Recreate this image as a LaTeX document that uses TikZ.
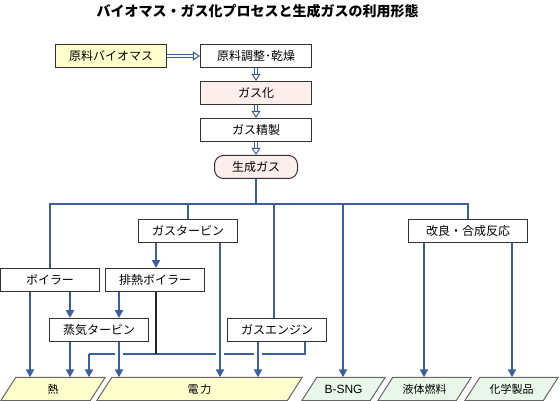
\documentclass[tikz,border=0pt]{standalone}
\usepackage{fontspec}
\setmainfont{Noto Sans CJK JP}
\newfontfamily\latfont{Liberation Sans}
\usetikzlibrary{arrows.meta,calc,backgrounds}
\definecolor{lb}{HTML}{3B5EA1}
\definecolor{ylw}{HTML}{FFFFCC}
\definecolor{pnk}{HTML}{FDEEEE}
\definecolor{grn}{HTML}{E9F6EA}
\begin{document}
\begin{tikzpicture}[x=1pt,y=-1pt,
  box/.style={draw=black!80, line width=1pt, minimum height=23pt, inner sep=0pt,
    font=\fontsize{12}{12}\selectfont, fill=white},
  para/.style={minimum height=23pt, inner sep=0pt, font=\fontsize{11}{11}\selectfont},
  paraline/.style={draw=black!60, line width=1pt},
  flow/.style={draw=lb, line width=2pt},
  arr/.style={flow, -{Triangle[length=8pt,width=8pt]}},
  blk/.style={draw=black!85, line width=2pt},
  dshaft/.style={draw=lb, line width=1pt, double=white, double distance=2pt},
  dtip/.style={draw=lb, line width=1pt, -{Triangle[open,length=7pt,width=9pt]}},
  halo/.style={fill=white}
]
\useasboundingbox (0,0) rectangle (560,401);

% title
\node[font=\fontsize{14}{14}\selectfont\bfseries] (title) at (257.5,11) {バイオマス・ガス化プロセスと生成ガスの利用形態};

% process chain
\node[box, fill=ylw, minimum width=111pt] (raw) at (111,56) {原料バイオマス};
\node[box, minimum width=111pt] (prep) at (256,56) {原料調整･乾燥};
\node[box, fill=pnk, minimum width=111pt] (gasif) at (256,93) {ガス化};
\node[box, minimum width=111pt] (refine) at (256,130) {ガス精製};
\node[box, fill=pnk, minimum width=83pt, rounded corners=9pt] (gas) at (256,167) {生成ガス};

% double arrows
\draw[dshaft] (raw.east) -- ([xshift=-6.5pt]prep.west);
\draw[dtip] ([xshift=-7pt]prep.west) -- (prep.west);
\draw[dshaft] (prep.south) -- ([yshift=6.5pt]gasif.north);
\draw[dtip] ([yshift=7pt]gasif.north) -- (gasif.north);
\draw[dshaft] (gasif.south) -- ([yshift=6.5pt]refine.north);
\draw[dtip] ([yshift=7pt]refine.north) -- (refine.north);
\draw[dshaft] (refine.south) -- ([yshift=6.5pt]gas.north);
\draw[dtip] ([yshift=7pt]gas.north) -- (gas.north);

% utilisation boxes
\node[box, minimum width=99pt] (gt) at (188,231) {ガスタービン};
\node[box, minimum width=119pt] (ref) at (468,231) {改良・合成反応};
\node[box, minimum width=99pt] (boiler) at (50,280) {ボイラー};
\node[box, minimum width=99pt] (hrb) at (155,280) {排熱ボイラー};
\node[box, minimum width=99pt] (st) at (99,330) {蒸気タービン};
\node[box, minimum width=99pt] (ge) at (277,330) {ガスエンジン};

% products
\node[para, minimum width=104pt] (heat) at (53,389) {熱};
\node[para, minimum width=205pt] (power) at (199.5,389) {電\hspace{2pt}力};
\node[para, minimum width=83pt, font=\latfont\fontsize{12}{12}\selectfont] (bsng) at (343.5,389) {B-SNG};
\node[para, minimum width=93pt] (liquid) at (424.5,389) {液体燃料};
\node[para, minimum width=93pt] (chem) at (511.5,389) {化学製品};
\begin{scope}[on background layer]
  \foreach \n/\c in {heat/ylw, power/ylw, bsng/grn, liquid/grn, chem/grn}{
    \draw[paraline, fill=\c] (\n.south west) -- ([xshift=-15pt]\n.south east)
      -- (\n.north east) -- ([xshift=15pt]\n.north west) -- cycle;
  }
\end{scope}

% helper x positions
\coordinate (br) at (256,204);
\coordinate (xa) at (30,0);
\coordinate (xb) at (70,0);
\coordinate (xc) at (119,0);
\coordinate (xd) at (156,0);
\coordinate (xf) at (89,0);
\coordinate (xg) at (220,0);
\coordinate (xh) at (258,0);
\coordinate (xi) at (305,0);
\coordinate (xge) at (274,0);
\coordinate (xs) at (343,0);
\coordinate (xl) at (424,0);
\coordinate (xm) at (512,0);
\coordinate (ey) at (0,354);

% distribution line
\draw[flow] (gas.south) -- (br);
\draw[flow] (boiler.north) |- (br) -| (ref.north);
\draw[flow] (gt.north) -- (gt.north |- br);
\draw[flow] (ge.north -| xge) -- (br -| xge);
\draw[arr] (br -| xs) -- (bsng.north -| xs);

% reforming outputs
\draw[arr] (ref.south -| xl) -- (liquid.north -| xl);
\draw[arr] (ref.south -| xm) -- (chem.north -| xm);

% exhaust heat line
\draw[flow] (ge.south -| xi) |- (ey -| xf);
\draw[blk] (hrb.south -| xd) -- (ey -| xd);
\foreach \x in {xc, xg, xh}{
  \fill[halo] ($(ey -| \x)+(-4,-3.5)$) rectangle ($(ey -| \x)+(4,3.5)$);
}
\draw[arr] (ey -| xf) -- (heat.north -| xf);

% turbine / boiler arrows
\draw[arr] (boiler.south -| xa) -- (heat.north -| xa);
\draw[arr] (boiler.south -| xb) -- (st.north -| xb);
\draw[arr] (gt.south -| xd) -- (hrb.north -| xd);
\draw[arr] (hrb.south -| xc) -- (st.north -| xc);
\draw[arr] (st.south -| xb) -- (heat.north -| xb);
\draw[arr] (st.south -| xc) -- (power.north -| xc);
\draw[arr] (gt.south -| xg) -- (power.north -| xg);
\draw[arr] (ge.south -| xh) -- (power.north -| xh);
\end{tikzpicture}
\end{document}
